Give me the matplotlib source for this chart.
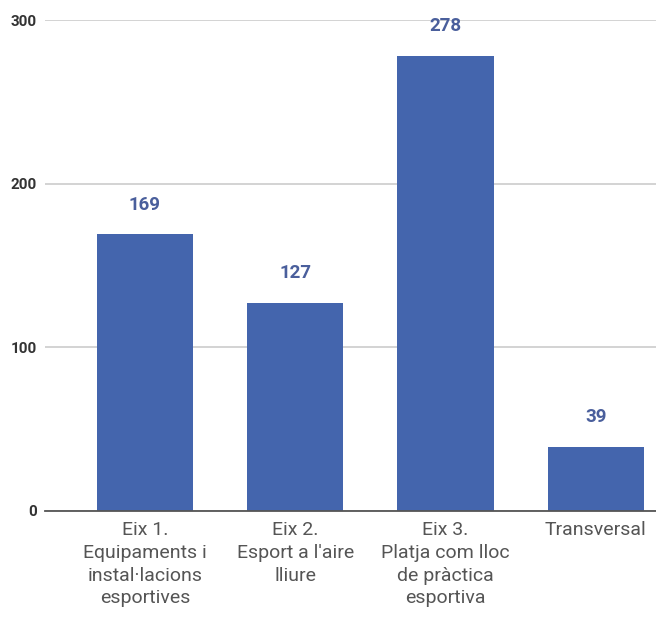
import numpy as np
import matplotlib.pyplot as plt

# dades
categories = ["Eix 1.\nEquipaments i\ninstal·lacions\nesportives",
              "Eix 2.\nEsport a l'aire\nlliure",
              "Eix 3.\nPlatja com lloc\nde pràctica\nesportiva",
              "Transversal"]
values = [169, 127, 278, 39]
yticks = [0, 100, 200, 300]

plt.rcParams['font.family'] = ['Roboto', 'DejaVu Sans']

fig = plt.figure(figsize=(6.56, 6.17), dpi=100)
ax = fig.add_axes([45/656, 106/617, 611/656, 491/617])

x = np.arange(len(categories))
bars = ax.bar(x, values, width=0.64, color='#4465ad', zorder=3)

# etiquetes de valor
for b, v in zip(bars, values):
    ax.annotate(str(v), (b.get_x() + b.get_width()/2, v), xytext=(0, 15),
                textcoords='offset points', ha='center', va='bottom',
                fontsize=13.5, fontweight='bold', color='#4a5f9c', zorder=4)

ax.set_xlim(-0.665, 3.40)
ax.set_ylim(0, 300)
ax.set_yticks(yticks)
ax.set_yticklabels([str(t) for t in yticks], fontsize=11, fontweight='bold', color='#333333')
ax.set_xticks(x)
ax.set_xticklabels(categories, fontsize=14, color='#555555', linespacing=1.35, va='top')
ax.tick_params(axis='both', length=0)
ax.tick_params(axis='y', pad=6)
ax.tick_params(axis='x', pad=7)

ax.grid(axis='y', color='#cccccc', linewidth=1.2, zorder=0)
for s in ['top', 'right', 'left']:
    ax.spines[s].set_visible(False)
ax.spines['bottom'].set_color('#555555')
ax.spines['bottom'].set_linewidth(1.3)
ax.spines['bottom'].set_zorder(5)

plt.savefig('out.png', dpi=100)
